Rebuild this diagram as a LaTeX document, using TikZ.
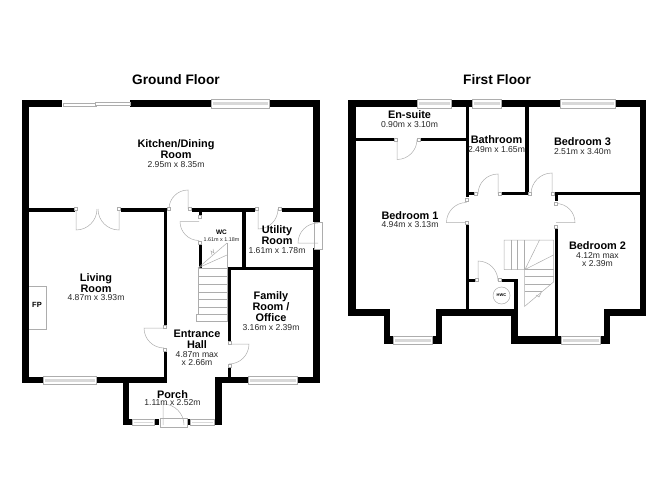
\documentclass[tikz,border=0pt]{standalone}
\usepackage{fontspec}
\setmainfont{Liberation Sans}
\usepackage{tikz}
\definecolor{linegray}{gray}{0.68}
\definecolor{panegray}{gray}{0.85}
\tikzset{%
  wall/.style={fill=black, draw=none},
  door/.style={draw=linegray, line width=0.5pt},
  stair/.style={draw=linegray, line width=0.5pt},
  jamb/.style={draw=linegray, fill=white, line width=0.4pt},
  frame/.style={draw=linegray, fill=white, line width=0.4pt},
  pane/.style={fill=panegray, draw=none},
  title/.style={font=\bfseries\fontsize{13.7}{15}\selectfont, align=center},
  room/.style={font=\bfseries\fontsize{10.9}{11}\selectfont, align=center, inner sep=0pt},
  size/.style={font=\fontsize{8.6}{8.6}\selectfont, align=center, text=black!85, inner sep=0pt},
}
\begin{document}
\begin{tikzpicture}[x=1pt, y=1pt, yscale=-1]
\useasboundingbox (0,0) rectangle (668,486);

\node [title] (ground-title) at (176,80) {Ground Floor};
\node [title] (first-title) at (497,80) {First Floor};

% ground floor walls
\foreach \xa/\ya/\xb/\yb in {
    22/100/62/107.5, 130/100/211/107.5, 269/100/319.5/107.5,
    22/100/29/383, 313/100/319.5/222, 313/248/319.5/383,
    29/208/75/211.5, 121/208/167/211.5, 192/208/255/211.5, 282/208/313/211.5,
    163.5/208/167/325, 163.5/350/167/383,
    198.5/208/202/217, 198.5/243/202/268,
    242/208/245.5/267, 228/266.5/313/270,
    228/266.5/231/343, 228/366/231/383,
    22/377/43/383, 96/377/167/383,
    215/377/248/383, 297/377/319.5/383,
    122.5/377/129/425, 215/377/222/425,
    122.5/418.5/132/425, 154/418.5/159/425, 187/418.5/190/425, 214/418.5/222/425}
  \fill [wall] (\xa,\ya) rectangle (\xb,\yb);

% first floor walls
\foreach \xa/\ya/\xb/\yb in {
    348/100/417/107.5, 451/100/472.5/107.5, 501.5/100/560/107.5, 615/100/646/107.5,
    348/100/355.5/316, 639.5/100/646/316,
    355/138/394/141.5, 421/138/469/141.5,
    465.5/100/469/197, 465.5/225/469/309,
    469/192/475/195.5, 502/192/528.5/195.5,
    525/100/528.5/195.5, 555/192/646/195.5,
    555/192/558/201, 554.5/229/558/340,
    469/278.5/475/281.5, 502/278.5/517.5/281.5,
    514/278.5/517.5/316, 511/309/517.5/343.5,
    348/309/390/316, 436/309/517.5/316, 603.5/309/646/316,
    383.5/309/390/343.5, 435.5/309/442/343.5, 603.5/309/610/343.5,
    383.5/336/393/343.5, 431.5/336/442/343.5,
    511/336/561/343.5, 600/336/610/343.5}
  \fill [wall] (\xa,\ya) rectangle (\xb,\yb);

% windows
\foreach \xa/\ya/\xb/\yb in {
    211/99.5/269/108, 43/376.5/96/384, 248/376.5/297/384,
    132/419/154/425.5, 190/419/214/425.5,
    417/99.5/451/108, 472.5/99.5/501.5/108, 560/99.5/615/108,
    393/336/432/344, 561/336/600/344} {
  \draw [frame] (\xa,\ya) rectangle (\xb,\yb);
  \fill [pane] (\xa+1.5,\ya+2.5) rectangle (\xb-1.5,\yb-2.5);
}

% sliding doors and frames
\draw [frame] (63,103.5) rectangle (96,106.5);
\draw [frame] (95,102.5) rectangle (130,105.5);
\draw [frame] (314,222.5) rectangle (322.5,249);
\draw [frame] (160,418.5) rectangle (187,427);

% door leaves: hinge, start and end angle, radius
\foreach \x/\y/\a/\b/\r in {
    188/209/270/180/19, 199/221.5/180/90/19, 76/209/90/0/21, 119/209/90/180/21,
    258/209/90/0/20, 318/243/180/270/20, 164/328/180/90/20, 229/344/0/90/20,
    163/425/270/360/21, 397/139.5/90/0/20, 498/194/270/180/20, 552/194/270/180/21,
    466.5/222.5/180/270/20, 556/222.5/0/-90/19, 478/281/270/360/20}
  \draw [door] (\x,\y) -- ++(\a:\r) arc (\a:\b:\r);

\foreach \x/\y in {
    76/209, 119/209, 169/209, 190/209, 257/209, 280/209, 200/217, 200/243,
    165/327, 165/350, 229.5/343, 229.5/366,
    396/139.5, 419/139.5, 476/194, 500/194, 530/194, 553/194,
    467/200, 467/223, 556/204, 556/227, 476.5/280, 500/280}
  \draw [jamb] (\x-1.4,\y-1.4) rectangle (\x+1.4,\y+1.4);

\draw [door] (29,286) -- (46,286) -- (46,329.5) -- (29,329.5);
\node [font=\bfseries\fontsize{7.5}{8}\selectfont, inner sep=0pt] (fireplace) at (37,305) {FP};

% ground floor stairs
\foreach \y in {276,284,292,299,307}
  \draw [stair] (198,\y) -- (227,\y);
\draw [stair] (198,268) -- (227,268);
\draw [stair] (198,268) -- (198,314);
\draw [stair] (227,243) -- (227,321.5) -- (196,321.5) -- (196,314) -- (227,314);
\draw [stair] (198,268) -- (227,243);
\draw [stair] (198,268) -- (227,255);
\draw [stair] (212,255) -- (211,251) -- (214,253) -- (213,249);

% first floor stairs
\draw [stair] (504,269.5) -- (504,240) -- (553.5,240) -- (553.5,282) -- (524.5,306.5) -- (524.5,269.5) -- (504,269.5);
\foreach \x in {511,517.5}
  \draw [stair] (\x,240) -- (\x,269.5);
\draw [stair] (524.5,240) -- (524.5,269.5);
\draw [stair] (525,269.5) -- (539.5,240);
\draw [stair] (525,269.5) -- (553.5,255);
\draw [stair] (525,269.5) -- (553.5,269.5);
\draw [stair] (524.5,276.5) -- (553.5,276.5);
\draw [stair] (524.5,284) -- (551,284);
\draw [stair] (524.5,291.5) -- (542,291.5);
\draw [stair] (536,295) -- (539,297) -- (541,293);

\draw [stair] (501.5,295.5) circle (8.5);
\node [font=\bfseries\fontsize{4}{4}\selectfont, inner sep=0pt] (hwc) at (501.5,295.5) {HWC};

% ground floor labels
\node [room] (kitchen) at (176,149.5) {Kitchen/Dining\\Room};
\node [size] (kitchen-size) at (176,164.5) {2.95m x 8.35m};
\node [room] (living) at (96,283) {Living\\Room};
\node [size] (living-size) at (96,298) {4.87m x 3.93m};
\node [room, font=\bfseries\fontsize{6.5}{7}\selectfont] (wc) at (221.5,232.5) {WC};
\node [size, font=\fontsize{5.4}{6}\selectfont] (wc-size) at (221.5,239.5) {1.61m x 1.18m};
\node [room] (utility) at (277,235) {Utility\\Room};
\node [size] (utility-size) at (277,250.5) {1.61m x 1.78m};
\node [room] (family) at (271,307) {Family\\Room /\\Office};
\node [size] (family-size) at (271,327.5) {3.16m x 2.39m};
\node [room] (entrance) at (197,339) {Entrance\\Hall};
\node [size] (entrance-size) at (197,358.5) {4.87m max\\x 2.66m};
\node [room] (porch) at (172.5,394.5) {Porch};
\node [size] (porch-size) at (172.5,403) {1.11m x 2.52m};

% first floor labels
\node [room] (ensuite) at (409.5,115) {En-suite};
\node [size] (ensuite-size) at (409.5,124.5) {0.90m x 3.10m};
\node [room] (bathroom) at (496.5,140) {Bathroom};
\node [size] (bathroom-size) at (496.5,149.5) {2.49m x 1.65m};
\node [room] (bedroom-3) at (582.5,142) {Bedroom 3};
\node [size] (bedroom-3-size) at (582.5,151.5) {2.51m x 3.40m};
\node [room] (bedroom-1) at (410,215.5) {Bedroom 1};
\node [size] (bedroom-1-size) at (410,224.5) {4.94m x 3.13m};
\node [room] (bedroom-2) at (597.5,245.5) {Bedroom 2};
\node [size] (bedroom-2-size) at (597.5,259.5) {4.12m max\\x 2.39m};

\end{tikzpicture}
\end{document}
